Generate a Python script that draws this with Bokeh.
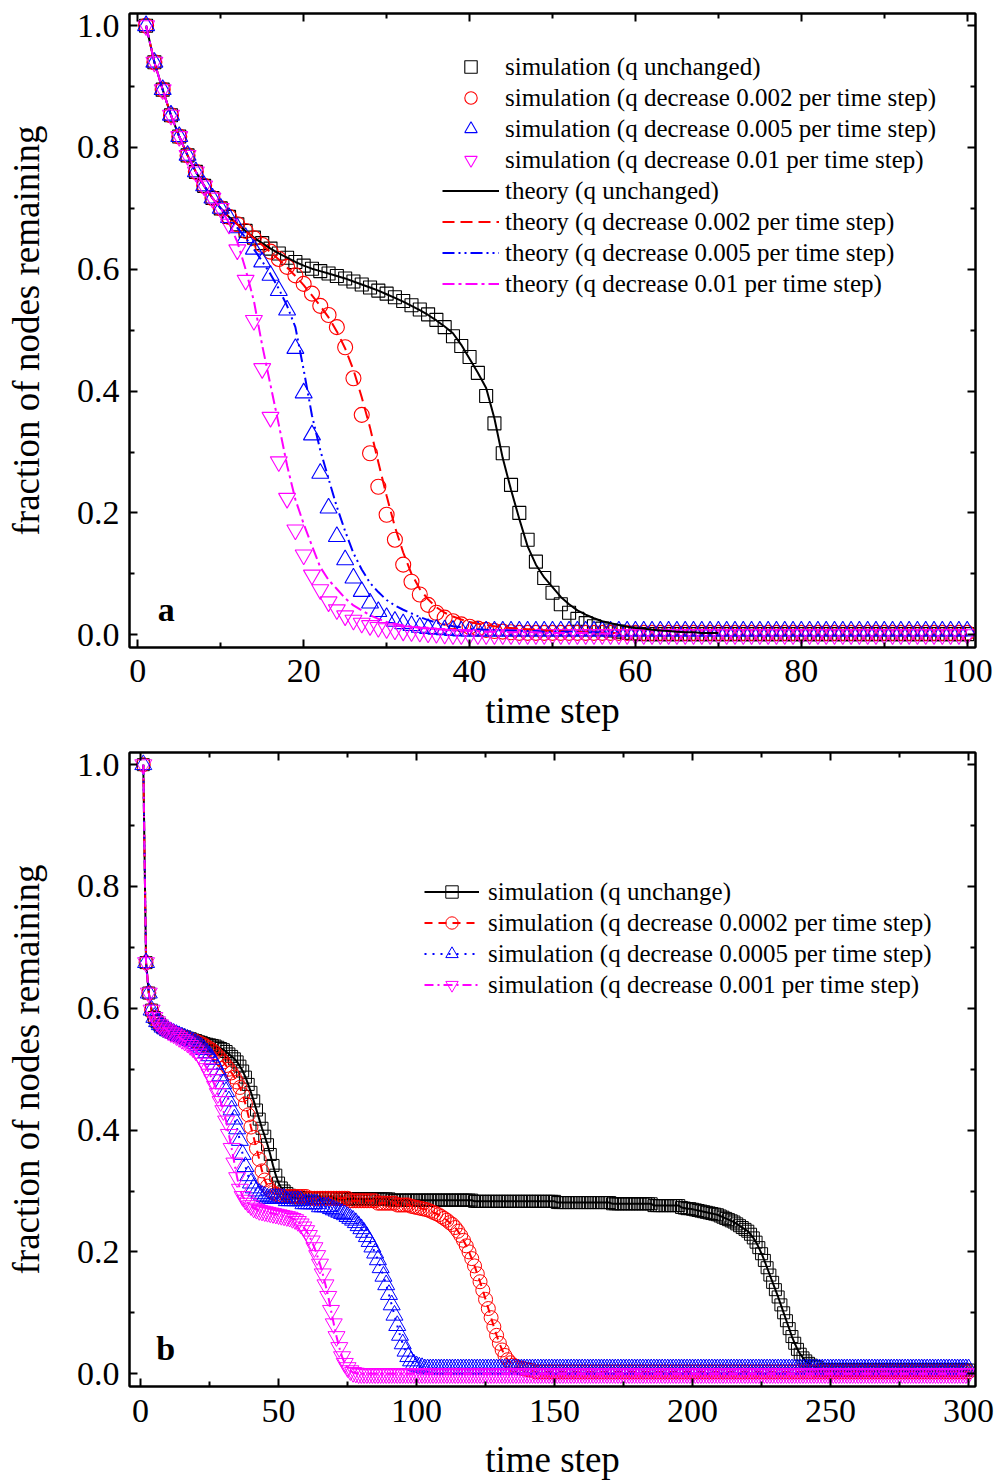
from bokeh.plotting import figure
from bokeh.models import (Range1d, LinearAxis, FixedTicker, PrintfTickFormatter,
                          Legend, LegendItem, Label)
from bokeh.layouts import column
from bokeh.embed import file_html
from bokeh.resources import INLINE

FONT = "Liberation Serif"

# ---------------- panel a data (time steps 1..100) ----------------
steps_a = list(range(1, 101))
early_a = [1.0, 0.94, 0.895, 0.853, 0.818, 0.787, 0.76, 0.737, 0.717, 0.70]

sim_a_unchanged = early_a + [
    0.686, 0.674, 0.663, 0.652, 0.643, 0.634, 0.626, 0.619, 0.612, 0.606,
    0.601, 0.597, 0.593, 0.589, 0.585, 0.58, 0.575, 0.57, 0.565, 0.56,
    0.554, 0.548, 0.541, 0.534, 0.526, 0.517, 0.505, 0.49, 0.474, 0.456,
    0.43, 0.392, 0.347, 0.298, 0.246, 0.2, 0.156, 0.12, 0.093, 0.069,
    0.05, 0.036, 0.026, 0.019, 0.014, 0.01, 0.007, 0.005, 0.003, 0.002] + [0.001] * 40

sim_a_002 = early_a + [
    0.686, 0.674, 0.663, 0.651, 0.64, 0.629, 0.617, 0.604, 0.59, 0.576,
    0.56, 0.54, 0.525, 0.505, 0.472, 0.421, 0.361, 0.298, 0.243, 0.197,
    0.156, 0.115, 0.087, 0.066, 0.049, 0.036, 0.028, 0.022, 0.017, 0.013,
    0.01, 0.008, 0.006, 0.005, 0.004] + [0.003] * 55

sim_a_005 = early_a + [
    0.685, 0.668, 0.652, 0.633, 0.612, 0.59, 0.565, 0.533, 0.47, 0.397,
    0.328, 0.265, 0.208, 0.161, 0.123, 0.093, 0.071, 0.052, 0.038, 0.028,
    0.022, 0.018, 0.015, 0.012, 0.01, 0.009, 0.008, 0.007] + [0.006] * 62

sim_a_01 = early_a + [
    0.674, 0.632, 0.582, 0.516, 0.437, 0.357, 0.284, 0.224, 0.172, 0.131,
    0.098, 0.074, 0.054, 0.041, 0.031, 0.024, 0.019, 0.015, 0.012, 0.01,
    0.008, 0.006, 0.005, 0.004, 0.003, 0.002, 0.001] + [0.0] * 63

steps_th_unchanged = list(range(1, 71))
th_a_unchanged = early_a + [
    0.686, 0.674, 0.663, 0.652, 0.643, 0.634, 0.626, 0.619, 0.612, 0.606,
    0.601, 0.597, 0.593, 0.589, 0.585, 0.58, 0.575, 0.57, 0.565, 0.559,
    0.553, 0.547, 0.54, 0.533, 0.525, 0.516, 0.506, 0.495, 0.476, 0.453,
    0.43, 0.405, 0.355, 0.29, 0.238, 0.19, 0.145, 0.115, 0.094, 0.078,
    0.062, 0.05, 0.04, 0.033, 0.027, 0.022, 0.019, 0.016, 0.013, 0.011,
    0.01, 0.008, 0.007, 0.006, 0.005, 0.004, 0.004, 0.003, 0.003, 0.003]

steps_th = list(range(1, 59))
th_a_002 = early_a + [
    0.686, 0.674, 0.663, 0.651, 0.64, 0.628, 0.616, 0.603, 0.589, 0.574,
    0.557, 0.54, 0.521, 0.498, 0.47, 0.435, 0.39, 0.34, 0.283, 0.228,
    0.177, 0.135, 0.1, 0.075, 0.058, 0.045, 0.036, 0.03, 0.025, 0.021,
    0.018, 0.016, 0.014, 0.012, 0.011, 0.01, 0.009, 0.008, 0.007, 0.006,
    0.006, 0.005, 0.005, 0.004, 0.004, 0.003, 0.003, 0.003]

th_a_005 = early_a + [
    0.685, 0.668, 0.652, 0.633, 0.613, 0.592, 0.568, 0.54, 0.505, 0.435,
    0.36, 0.303, 0.256, 0.21, 0.17, 0.134, 0.107, 0.085, 0.07, 0.057,
    0.048, 0.041, 0.035, 0.029, 0.024, 0.02, 0.017, 0.014, 0.012, 0.01,
    0.009, 0.008, 0.008, 0.007, 0.007, 0.006, 0.006, 0.006, 0.005, 0.005,
    0.005, 0.005, 0.004, 0.004, 0.004, 0.004, 0.004, 0.004]

th_a_01 = early_a + [
    0.676, 0.645, 0.6, 0.548, 0.475, 0.41, 0.345, 0.278, 0.222, 0.182,
    0.146, 0.111, 0.09, 0.075, 0.06, 0.048, 0.04, 0.032, 0.026, 0.021,
    0.018, 0.015, 0.013, 0.011, 0.01, 0.009, 0.008, 0.007, 0.007, 0.006,
    0.006, 0.005, 0.005, 0.005, 0.004, 0.004, 0.004, 0.004, 0.003, 0.003,
    0.003, 0.003, 0.003, 0.003, 0.002, 0.002, 0.002, 0.002]

# ---------------- panel b data (time steps 1..300) ----------------
steps_b = list(range(1, 301))
early_b = [1.0, 0.675, 0.625, 0.597, 0.585, 0.578, 0.573, 0.569, 0.566, 0.563]

sim_b_unchange = early_b + [
    0.561, 0.559, 0.557, 0.556, 0.554, 0.553, 0.551, 0.55, 0.548, 0.547,
    0.545, 0.544, 0.542, 0.541, 0.54, 0.539, 0.538, 0.536, 0.534, 0.532,
    0.529, 0.525, 0.521, 0.517, 0.512, 0.505, 0.497, 0.487, 0.475, 0.462,
    0.448, 0.433, 0.418, 0.403, 0.39, 0.376, 0.36, 0.342, 0.326, 0.313,
    0.305, 0.3, 0.296, 0.293, 0.291] \
    + [0.289] * 15 + [0.287] * 20 + [0.285] * 30 + [0.283] * 30 \
    + [0.281] * 20 + [0.279] * 15 + [0.276] * 10 \
    + [0.273, 0.272, 0.271, 0.271, 0.27,
       0.269, 0.268, 0.267, 0.266, 0.265, 0.264, 0.263, 0.262, 0.261, 0.259,
       0.257, 0.255, 0.253, 0.251, 0.249, 0.246, 0.243, 0.24, 0.237, 0.234,
       0.229, 0.223, 0.216, 0.207, 0.197, 0.186, 0.174, 0.162, 0.15, 0.138,
       0.126, 0.113, 0.1, 0.087, 0.074, 0.061, 0.05, 0.04, 0.032, 0.026,
       0.021, 0.017, 0.014, 0.012, 0.011] + [0.006] * 55

sim_b_0002 = early_b + [
    0.561, 0.559, 0.557, 0.555, 0.553, 0.552, 0.55, 0.549, 0.547, 0.546,
    0.544, 0.542, 0.54, 0.537, 0.534, 0.531, 0.527, 0.522, 0.517, 0.512,
    0.506, 0.5, 0.494, 0.487, 0.479, 0.47, 0.458, 0.443, 0.425, 0.405,
    0.388, 0.37, 0.352, 0.333, 0.318, 0.308, 0.301, 0.297, 0.295, 0.293] \
    + [0.291] * 10 + [0.288] * 15 + [0.284] * 10 + [0.28] * 7 + [0.277] * 5 \
    + [0.275, 0.274,
       0.273, 0.272, 0.271, 0.27, 0.269, 0.267, 0.265, 0.263, 0.261, 0.258,
       0.255, 0.252, 0.248, 0.245, 0.24, 0.234, 0.227, 0.219, 0.21, 0.2,
       0.189, 0.177, 0.164, 0.151, 0.137, 0.122, 0.107, 0.092, 0.077, 0.063,
       0.05, 0.039, 0.03, 0.023, 0.018, 0.014, 0.012, 0.01, 0.009,
       0.008, 0.007, 0.006, 0.005] + [0.003] * 158

sim_b_0005 = early_b + [
    0.561, 0.559, 0.557, 0.555, 0.553, 0.551, 0.549, 0.547, 0.545, 0.542,
    0.539, 0.536, 0.532, 0.527, 0.522, 0.516, 0.508, 0.499, 0.489, 0.476,
    0.463, 0.448, 0.433, 0.418, 0.402, 0.383, 0.36, 0.34, 0.325, 0.313,
    0.305, 0.3, 0.296, 0.293, 0.291] \
    + [0.288] * 7 + [0.284] * 6 + [0.279] * 6 + [0.274] * 4 \
    + [0.271, 0.269, 0.267, 0.265, 0.263, 0.261, 0.258, 0.255, 0.252, 0.248,
       0.243, 0.238, 0.232, 0.225, 0.217, 0.208, 0.198, 0.187, 0.174, 0.16,
       0.146, 0.13, 0.113, 0.096, 0.079, 0.063, 0.049, 0.037, 0.028, 0.021,
       0.016, 0.013, 0.011, 0.01] + [0.008] * 198

sim_b_001 = early_b + [
    0.56, 0.558, 0.555, 0.552, 0.549, 0.546, 0.543, 0.539, 0.535, 0.53,
    0.525, 0.518, 0.51, 0.501, 0.492, 0.483, 0.472, 0.46, 0.447, 0.432,
    0.415, 0.393, 0.37, 0.346, 0.322, 0.303, 0.291, 0.285, 0.28, 0.276,
    0.272, 0.27, 0.268, 0.267, 0.266, 0.265, 0.264, 0.263, 0.262, 0.261,
    0.26, 0.259, 0.258, 0.257, 0.255, 0.253, 0.25, 0.246, 0.241, 0.235,
    0.227, 0.218, 0.207, 0.194, 0.18, 0.164, 0.146, 0.127, 0.104, 0.082,
    0.061, 0.043, 0.028, 0.017, 0.01, 0.005, 0.002, 0.001] + [0.0] * 222

# ---------------- ticks ----------------
y_ticks = [0.0, 0.2, 0.4, 0.6, 0.8, 1.0]
y_minor = [0.1, 0.3, 0.5, 0.7, 0.9]
a_x_ticks = [0, 20, 40, 60, 80, 100]
a_x_minor = [10, 30, 50, 70, 90]
b_x_ticks = [0, 50, 100, 150, 200, 250, 300]
b_x_minor = [25, 75, 125, 175, 225, 275]

BLACK, RED, BLUE, MAGENTA = "#000000", "#FF0000", "#0000FF", "#FF00FF"


def style_axis(ax, ticks, minor, fmt, labels=True):
    ax.ticker = FixedTicker(ticks=ticks, minor_ticks=minor)
    ax.axis_line_width = 2
    ax.axis_line_color = "black"
    ax.major_tick_in = 8
    ax.major_tick_out = 0
    ax.minor_tick_in = 5
    ax.minor_tick_out = 0
    ax.major_tick_line_width = 2
    ax.minor_tick_line_width = 2
    ax.major_tick_line_color = "black"
    ax.minor_tick_line_color = "black"
    ax.formatter = PrintfTickFormatter(format=fmt)
    if labels:
        ax.major_label_text_font = FONT
        ax.major_label_text_font_size = "34px"
        ax.major_label_text_color = "black"
        ax.axis_label_text_font = FONT
        ax.axis_label_text_font_size = "37px"
        ax.axis_label_text_font_style = "normal"
        ax.axis_label_text_color = "black"
    else:
        ax.major_label_text_color = None
        ax.major_label_text_font_size = "0px"
        ax.major_label_standoff = 0


def make_fig(height, top, bottom, xr, xt, xm, lab_standoff, x_standoff):
    p = figure(width=997, height=height, x_range=Range1d(*xr),
               y_range=Range1d(-0.021, 1.02), output_backend="svg",
               toolbar_location=None, min_border_left=129, min_border_right=22,
               min_border_top=top, min_border_bottom=bottom,
               x_axis_label="time step", y_axis_label="fraction of nodes remaining")
    p.background_fill_color = "white"
    p.border_fill_color = "white"
    p.outline_line_color = "black"
    p.outline_line_width = 2
    p.xgrid.visible = False
    p.ygrid.visible = False
    style_axis(p.xaxis[0], xt, xm, "%d")
    style_axis(p.yaxis[0], y_ticks, y_minor, "%.1f")
    p.xaxis[0].major_label_standoff = lab_standoff
    p.xaxis[0].axis_label_standoff = x_standoff
    p.yaxis[0].major_label_standoff = 10
    p.yaxis[0].axis_label_standoff = 27
    top_ax = LinearAxis()
    style_axis(top_ax, xt, xm, "%d", labels=False)
    p.add_layout(top_ax, "above")
    right_ax = LinearAxis()
    style_axis(right_ax, y_ticks, y_minor, "%.1f", labels=False)
    p.add_layout(right_ax, "right")
    return p


def style_legend(leg, gw, standoff):
    leg.margin = 0
    leg.padding = 0
    leg.spacing = 0
    leg.label_height = 31
    leg.glyph_height = 31
    leg.glyph_width = gw
    leg.label_standoff = standoff
    leg.label_text_font = FONT
    leg.label_text_font_size = "25px"
    leg.label_text_color = "black"
    leg.border_line_color = None
    leg.background_fill_alpha = 0


# ---------------- panel a ----------------
pa = make_fig(735, 13, 88, (-1, 101), a_x_ticks, a_x_minor, 12, 5)

r1 = pa.scatter(steps_a, sim_a_unchanged, marker="square", size=13, fill_color=None,
                line_color=BLACK, line_width=1.1)
r2 = pa.scatter(steps_a, sim_a_002, marker="circle", size=15, fill_color=None,
                line_color=RED, line_width=1.1)
r3 = pa.scatter(steps_a, sim_a_005, marker="triangle", size=17, fill_color=None,
                line_color=BLUE, line_width=1.1)
r4 = pa.scatter(steps_a, sim_a_01, marker="inverted_triangle", size=17, fill_color=None,
                line_color=MAGENTA, line_width=1.1)
l1 = pa.line(steps_th_unchanged, th_a_unchanged, line_color=BLACK, line_width=2)
l2 = pa.line(steps_th, th_a_002, line_color=RED, line_width=2, line_dash="12 6")
l3 = pa.line(steps_th, th_a_005, line_color=BLUE, line_width=2, line_dash="12 4 2 4 2 4")
l4 = pa.line(steps_th, th_a_01, line_color=MAGENTA, line_width=2, line_dash="12 4 3 4")

leg_a = Legend(items=[
    LegendItem(label="simulation (q unchanged)", renderers=[r1]),
    LegendItem(label="simulation (q decrease 0.002 per time step)", renderers=[r2]),
    LegendItem(label="simulation (q decrease 0.005 per time step)", renderers=[r3]),
    LegendItem(label="simulation (q decrease 0.01 per time step)", renderers=[r4]),
    LegendItem(label="theory (q unchanged)", renderers=[l1]),
    LegendItem(label="theory (q decrease 0.002 per time step)", renderers=[l2]),
    LegendItem(label="theory (q decrease 0.005 per time step)", renderers=[l3]),
    LegendItem(label="theory (q decrease 0.01 per time step)", renderers=[l4]),
], location=(313, 348))
style_legend(leg_a, 57, 6)
pa.add_layout(leg_a)
pa.add_layout(Label(x=2.4, y=0.042, text="a", text_font=FONT, text_font_size="34px",
                    text_font_style="bold", text_color="black", text_baseline="alphabetic"))

# ---------------- panel b ----------------
pb = make_fig(749, 17, 98, (-4, 302.5), b_x_ticks, b_x_minor, 13, 14)

b1l = pb.line(steps_b, sim_b_unchange, line_color=BLACK, line_width=2)
b1s = pb.scatter(steps_b, sim_b_unchange, marker="square", size=12, fill_color=None,
                 line_color=BLACK, line_width=1)
b2l = pb.line(steps_b, sim_b_0002, line_color=RED, line_width=2, line_dash="8 6")
b2s = pb.scatter(steps_b, sim_b_0002, marker="circle", size=14, fill_color=None,
                 line_color=RED, line_width=1)
b3l = pb.line(steps_b, sim_b_0005, line_color=BLUE, line_width=2, line_dash="2 6")
b3s = pb.scatter(steps_b, sim_b_0005, marker="triangle", size=17, fill_color=None,
                 line_color=BLUE, line_width=1)
b4l = pb.line(steps_b, sim_b_001, line_color=MAGENTA, line_width=2, line_dash="9 4 2 4")
b4s = pb.scatter(steps_b, sim_b_001, marker="inverted_triangle", size=17, fill_color=None,
                 line_color=MAGENTA, line_width=1)

leg_b = Legend(items=[
    LegendItem(label="simulation (q unchange)", renderers=[b1l, b1s]),
    LegendItem(label="simulation (q decrease 0.0002 per time step)", renderers=[b2l, b2s]),
    LegendItem(label="simulation (q decrease 0.0005 per time step)", renderers=[b3l, b3s]),
    LegendItem(label="simulation (q decrease 0.001 per time step)", renderers=[b4l, b4s]),
], location=(295, 386))
style_legend(leg_b, 55, 9)
pb.add_layout(leg_b)
pb.add_layout(Label(x=5.7, y=0.042, text="b", text_font=FONT, text_font_size="34px",
                    text_font_style="bold", text_color="black", text_baseline="alphabetic"))

layout = column(pa, pb, spacing=0)
open("out.html", "w").write(file_html(layout, INLINE))
